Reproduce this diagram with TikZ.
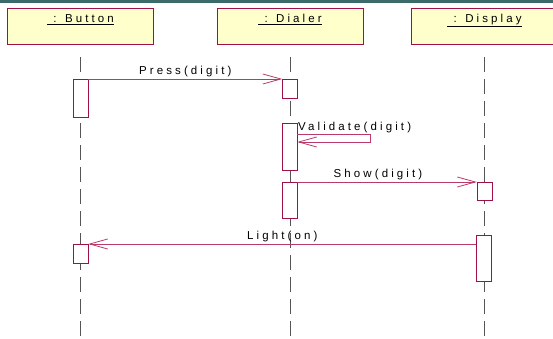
\documentclass[tikz,border=0pt]{standalone}
\usepackage{fontspec}
\setmainfont{Liberation Sans}[LetterSpace=27]
\usetikzlibrary{arrows.meta,positioning}

\definecolor{umlred}{RGB}{160,16,72}
\definecolor{umlline}{RGB}{184,58,106}
\definecolor{umlfill}{RGB}{255,255,204}
\definecolor{topbar}{RGB}{58,106,106}
\definecolor{lifegray}{RGB}{85,85,85}

\begin{document}
\begin{tikzpicture}[x=1pt,y=-1pt,font=\fontsize{11.5}{13}\selectfont]
  \tikzstyle{object}=[draw=umlred,fill=umlfill,minimum width=146pt,minimum height=36pt,inner sep=0pt]
  \tikzstyle{title}=[anchor=base,inner sep=0pt]
  \tikzstyle{lifeline}=[draw=lifegray,line width=0.9pt,dash pattern=on 15pt off 7pt]
  \tikzstyle{activation}=[draw=umlred,fill=white,minimum width=15pt,inner sep=0pt,anchor=north]
  \tikzstyle{message}=[draw=umlline,line width=0.8pt,-{Straight Barb[length=18pt,width=10pt]}]
  \tikzstyle{msglabel}=[inner sep=1.5pt]

  \useasboundingbox (0,0) rectangle (553,339);
  \fill[topbar] (0,0) rectangle (553,3);

  % Define the objects and their lifelines
  \foreach \name/\x/\txt in {button/80.5/Button, dialer/290/Dialer, display/484.5/Display} {
    \node[object] (\name) at (\x,26) {};
    \node[title] (\name title) at (\x,22.5) {\underline{\ : \txt}};
    \coordinate (\name top) at (\x,57);
    \coordinate (\name end) at (\x,339);
    \draw[lifeline] (\name top) -- (\name end);
  }

  % Define the activation bars
  \foreach \name/\x/\y/\h in {b1/80.5/79/38, d1/290/79/19, d2/289.5/123/47, d3/289.5/182/36,
                              p1/484.5/182/18, p2/484/235/46, b2/80.5/244/19} {
    \node[activation,minimum height=\h pt] (\name) at (\x,\y) {};
  }

  % Draw the messages
  \draw[message] (b1.north east) -- node[msglabel,above] {Press(digit)} (d1.north west);

  \coordinate (vout) at (370,134);
  \coordinate (vback) at (370,142);
  \draw[message] (d2.east |- vout) -- (vout) -- (vback) -- (d2.east |- vback);
  \node[title,anchor=base west] (vlabel) at (298,131) {Validate(digit)};

  \draw[message] (d3.north east) -- node[msglabel,above,xshift=-9pt] {Show(digit)} (p1.north west);
  \draw[message] (p2.west |- b2.north) -- node[msglabel,above] {Light(on)} (b2.north east);
\end{tikzpicture}
\end{document}
